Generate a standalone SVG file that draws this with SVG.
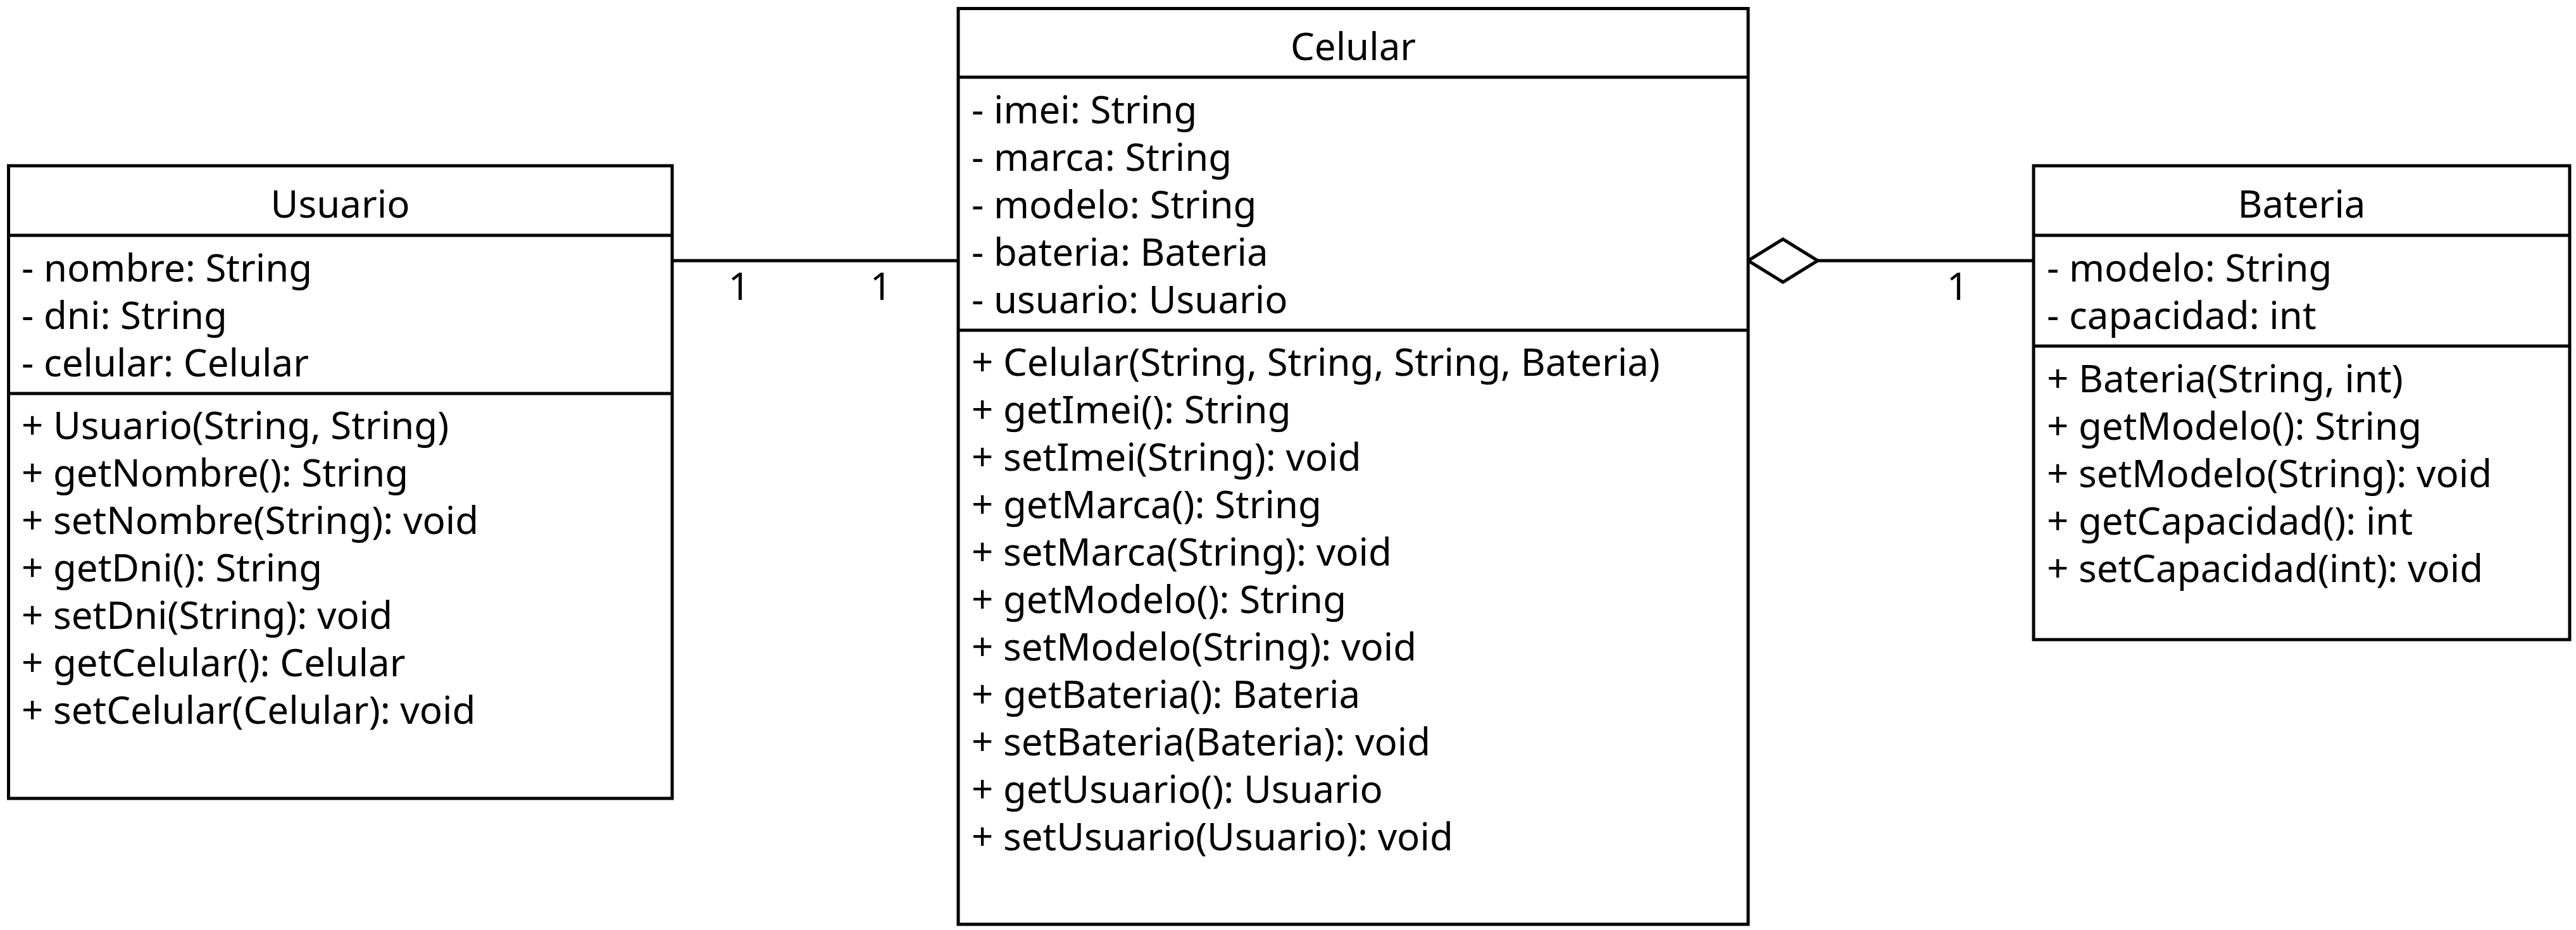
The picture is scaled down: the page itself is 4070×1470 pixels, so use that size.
<svg xmlns="http://www.w3.org/2000/svg" width="4070" height="1470" viewBox="0 0 4070 1470">
<style>
  .box { fill: #ffffff; stroke: #000000; stroke-width: 5; }
  .div { stroke: #000000; stroke-width: 5; }
  .edge { stroke: #000000; stroke-width: 5; fill: none; }
  text { font-family: "Noto Sans", "Open Sans", "DejaVu Sans", sans-serif; font-size: 60px; fill: #000000; }
  .title { text-anchor: middle; }
  .lbl { text-anchor: middle; }
</style>
<rect x="0" y="0" width="4070" height="1470" fill="#ffffff"/>
<g id="connectors">
  <line class="edge" x1="1062" y1="412" x2="1514" y2="412"/>
  <line class="edge" x1="2872" y1="412" x2="3213" y2="412"/>
  <polygon points="2762,412 2817,378 2872,412 2817,446" fill="#ffffff" stroke="#000000" stroke-width="5"/>
  <text class="lbl" x="1168" y="474">1</text>
  <text class="lbl" x="1392" y="474">1</text>
  <text class="lbl" x="3093" y="474">1</text>
</g>
<g id="usuario">
  <rect class="box" x="13.5" y="262" width="1048.5" height="1000"/>
  <line class="div" x1="13.5" y1="372" x2="1062" y2="372"/>
  <line class="div" x1="13.5" y1="622" x2="1062" y2="622"/>
  <text class="title" x="537.5" y="344">Usuario</text>
  <text x="34" y="445">- nombre: String</text>
  <text x="34" y="520">- dni: String</text>
  <text x="34" y="595">- celular: Celular</text>
  <text x="34" y="694">+ Usuario(String, String)</text>
  <text x="34" y="769">+ getNombre(): String</text>
  <text x="34" y="844">+ setNombre(String): void</text>
  <text x="34" y="919">+ getDni(): String</text>
  <text x="34" y="994">+ setDni(String): void</text>
  <text x="34" y="1069">+ getCelular(): Celular</text>
  <text x="34" y="1144">+ setCelular(Celular): void</text>
</g>
<g id="celular">
  <rect class="box" x="1514" y="13.5" width="1248" height="1447.5"/>
  <line class="div" x1="1514" y1="122" x2="2762" y2="122"/>
  <line class="div" x1="1514" y1="522" x2="2762" y2="522"/>
  <text class="title" x="2138" y="95">Celular</text>
  <text x="1535" y="195">- imei: String</text>
  <text x="1535" y="270">- marca: String</text>
  <text x="1535" y="345">- modelo: String</text>
  <text x="1535" y="420">- bateria: Bateria</text>
  <text x="1535" y="495">- usuario: Usuario</text>
  <text x="1535" y="594">+ Celular(String, String, String, Bateria)</text>
  <text x="1535" y="669">+ getImei(): String</text>
  <text x="1535" y="744">+ setImei(String): void</text>
  <text x="1535" y="819">+ getMarca(): String</text>
  <text x="1535" y="894">+ setMarca(String): void</text>
  <text x="1535" y="969">+ getModelo(): String</text>
  <text x="1535" y="1044">+ setModelo(String): void</text>
  <text x="1535" y="1119">+ getBateria(): Bateria</text>
  <text x="1535" y="1194">+ setBateria(Bateria): void</text>
  <text x="1535" y="1269">+ getUsuario(): Usuario</text>
  <text x="1535" y="1344">+ setUsuario(Usuario): void</text>
</g>
<g id="bateria">
  <rect class="box" x="3213" y="262" width="847" height="749"/>
  <line class="div" x1="3213" y1="372" x2="4060" y2="372"/>
  <line class="div" x1="3213" y1="547" x2="4060" y2="547"/>
  <text class="title" x="3636.5" y="344">Bateria</text>
  <text x="3234" y="445">- modelo: String</text>
  <text x="3234" y="520">- capacidad: int</text>
  <text x="3234" y="620">+ Bateria(String, int)</text>
  <text x="3234" y="695">+ getModelo(): String</text>
  <text x="3234" y="770">+ setModelo(String): void</text>
  <text x="3234" y="845">+ getCapacidad(): int</text>
  <text x="3234" y="920">+ setCapacidad(int): void</text>
</g>
</svg>
